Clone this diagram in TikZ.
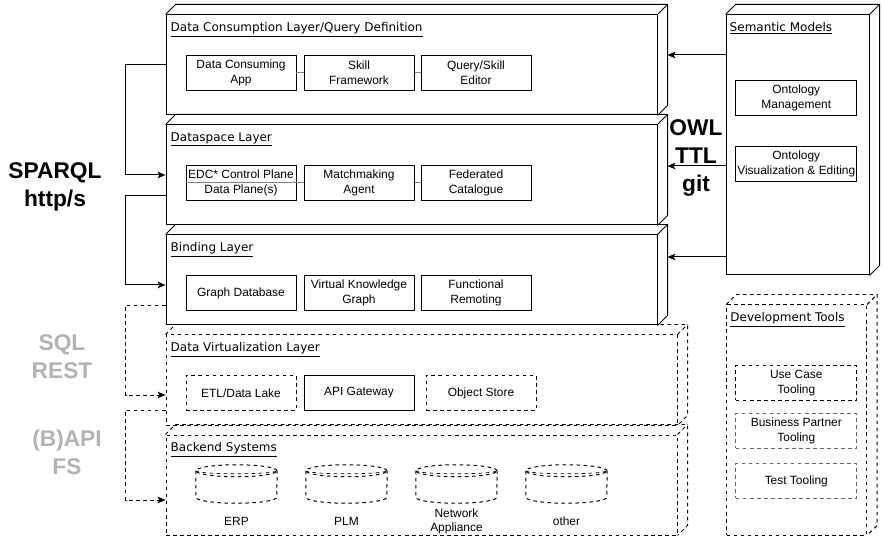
\documentclass[tikz,border=0pt]{standalone}
\usepackage{fontspec}
\setmainfont{Liberation Sans}
\newfontfamily\labelfont{DejaVu Sans}
\usetikzlibrary{arrows.meta,fit,positioning}
\definecolor{linkgray}{HTML}{808080}
\definecolor{toolgray}{HTML}{666666}
\definecolor{protogray}{HTML}{B3B3B3}
\newcommand{\pxl}{0.03cm}
\newcommand{\backface}[2][]{%
  \draw[line width=0.85pt,#1] (#2.north west) -- ([xshift=0.3cm,yshift=0.3cm]#2.north west) -- ([xshift=0.3cm,yshift=0.3cm]#2.north east) -- ([xshift=0.3cm,yshift=0.3cm]#2.south east) -- (#2.south east);
  \draw[line width=0.85pt,#1] (#2.north east) -- ([xshift=0.3cm,yshift=0.3cm]#2.north east);}
\newcommand{\drum}[1]{%
  \draw[dashed,line width=0.85pt] ([yshift=-0.18cm]#1.north) ellipse [x radius=1.215cm, y radius=0.18cm];
  \draw[dashed,line width=0.6pt] ([yshift=-0.18cm]#1.north west) arc [start angle=180, end angle=360, x radius=1.215cm, y radius=0.09cm];
  \draw[dashed,line width=0.85pt] ([yshift=-0.18cm]#1.north west) -- ([yshift=0.18cm]#1.south west) arc [start angle=180, end angle=360, x radius=1.215cm, y radius=0.18cm] -- ([yshift=-0.18cm]#1.north east);}
\tikzset{
  layer/.style={draw, line width=0.85pt, inner sep=0pt},
  part/.style={draw, line width=0.85pt, align=center, minimum width=110*\pxl, minimum height=35*\pxl, inner sep=0.5pt, font=\fontsize{10.2}{12.5}\selectfont},
  widepart/.style={part, minimum width=120.7*\pxl},
  title/.style={font=\labelfont\fontsize{10.25}{12}\selectfont, inner sep=0pt},
  caption/.style={align=center, inner sep=0pt, font=\fontsize{10.2}{12.5}\selectfont},
  proto/.style={align=center, inner sep=0pt, font=\bfseries\fontsize{19.4}{23.8}\selectfont},
  drumbox/.style={minimum width=81*\pxl, minimum height=38*\pxl, inner sep=0pt},
  link/.style={draw=linkgray, line width=0.85pt},
  wire/.style={line width=0.85pt, -{Stealth[length=0.24cm, width=0.2cm, inset=0.06cm]}}
}
\begin{document}
\begin{tikzpicture}[x=0.03cm, y=-0.03cm]
\useasboundingbox (0,0) rectangle (883,542);

\node[layer, fit={(166,15) (657,115)}] (dc) {};
\node[layer, fit={(166,125) (657,225)}] (ds) {};
\node[layer, fit={(166,235) (657,325)}] (bl) {};
\node[layer, dashed, fit={(166,335) (677,425)}] (dv) {};
\node[layer, dashed, fit={(166,435) (677,535)}] (be) {};
\node[layer, fit={(726,15) (869,275)}] (sm) {};
\node[layer, dashed, fit={(726.7,305) (866.7,535)}] (dt) {};
\backface{dc}
\backface{ds}
\backface{bl}
\backface[dashed]{dv}
\backface[dashed]{be}
\backface{sm}
\backface[dashed]{dt}

\node[title, below right=0.24cm and 0.15cm of dc.north west] (dct) {\underline{Data Consumption Layer/Query Definition}};
\node[title, below right=0.24cm and 0.15cm of ds.north west] (dst) {\underline{Dataspace Layer}};
\node[title, below right=0.24cm and 0.15cm of bl.north west] (blt) {\underline{Binding Layer}};
\node[title, below right=0.24cm and 0.15cm of dv.north west] (dvt) {\underline{Data Virtualization Layer}};
\node[title, below right=0.24cm and 0.15cm of be.north west] (bet) {\underline{Backend Systems}};
\node[title, below right=0.24cm and 0.12cm of sm.north west] (smt) {\underline{Semantic Models}};
\node[title, below right=0.24cm and 0.12cm of dt.north west] (dtt) {\underline{Development Tools}};

\node[part] (app) at (241,73) {Data Consuming\\App};
\node[part] (skill) at (359,73) {Skill\\Framework};
\node[part] (editor) at (476,73) {Query/Skill\\Editor};
\node[part] (edc) at (241,183) {EDC* Control Plane\\Data Plane(s)};
\node[part] (match) at (359,183) {Matchmaking\\Agent};
\node[part] (fed) at (476,183) {Federated\\Catalogue};
\node[part] (graph) at (241,293) {Graph Database};
\node[part] (vkg) at (359,293) {Virtual Knowledge\\Graph};
\node[part] (remote) at (476,293) {Functional\\Remoting};
\node[part, dashed] (etl) at (241,393) {ETL/Data Lake};
\node[part] (api) at (359,393) {API Gateway};
\node[part, dashed] (store) at (481,393) {Object Store};

\node[widepart] (ontman) at (796.3,98) {Ontology\\Management};
\node[widepart] (ontvis) at (796.3,164) {Ontology\\Visualization \& Editing};
\node[widepart, dashed] (usecase) at (796.3,383) {Use Case\\Tooling};
\node[widepart, dashed, draw=toolgray] (partner) at (796.3,431) {Business Partner\\Tooling};
\node[widepart, dashed, draw=toolgray] (test) at (796.3,481) {Test Tooling};

\path[link] (app) -- (skill);
\path[link] (skill) -- (editor);
\path[link] (edc.west) -- (match.west);
\path[link] (match) -- (fed);

\node[drumbox] (erp) at (236.5,484) {};
\node[drumbox] (plm) at (346.5,484) {};
\node[drumbox] (net) at (456.5,484) {};
\node[drumbox] (other) at (566.5,484) {};
\drum{erp}
\drum{plm}
\drum{net}
\drum{other}
\node[caption] (erpl) at (236.5,521) {ERP};
\node[caption] (plml) at (346.5,521) {PLM};
\node[caption] (netl) at (456.5,521.5) {Network\\Appliance};
\node[caption] (otherl) at (566.5,521) {other};

\coordinate (dcin) at ([xshift=0.3cm,yshift=0.3cm]dc.east);
\coordinate (dsin) at ([xshift=0.3cm,yshift=0.27cm]ds.east);
\coordinate (blin) at ([xshift=0.3cm,yshift=0.69cm]bl.east);
\draw[wire] (sm.west |- dcin) -- (dcin);
\draw[wire] (sm.west |- dsin) -- (dsin);
\draw[wire] (sm.west |- blin) -- (blin);

\draw[wire] (dc.west) -- ++(-40,0) |- (ds.west);
\draw[wire] ([yshift=-0.63cm]ds.west) -- ++(-40,0) |- ([yshift=-0.15cm]bl.west);
\draw[wire, dashed] ([yshift=-0.75cm]bl.west) -- ++(-40,0) |- ([yshift=-0.45cm]dv.west);
\draw[wire, dashed] ([yshift=-0.9cm]dv.west) -- ++(-40,0) |- ([yshift=-0.45cm]be.west);

\node[proto] (sparql) at (55,187) {SPARQL\\http/s};
\node[proto, text=protogray] (sql) at (62,356.5) {SQL\\REST};
\node[proto, text=protogray] (bapi) at (67,452) {(B)API\\FS};
\node[proto] (owl) at (696,158) {OWL\\TTL\\git};
\end{tikzpicture}
\end{document}
